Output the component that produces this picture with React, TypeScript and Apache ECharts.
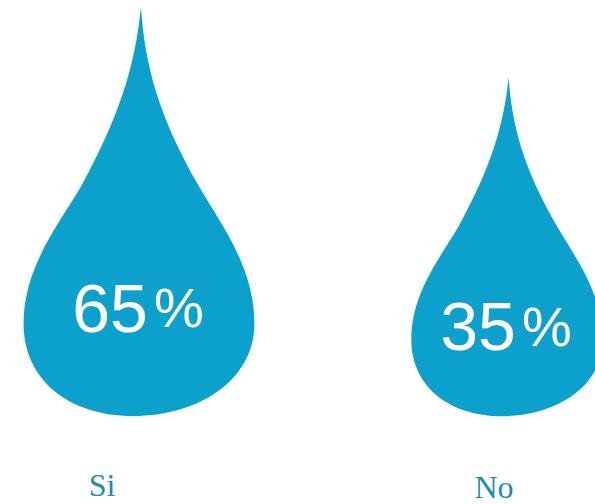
import React, { useEffect, useRef } from "react";
import * as echarts from "echarts";

// Survey answers and their shares (percent)
const CATEGORIES = ["Si", "No"];
const SHARES = [65, 35];

// Hidden value-axis range: a drop's tip sits at its share, its base at Y_MIN
const Y_MIN = -110;
const Y_MAX = 65;

const DROP_COLOR = "#0ba1cc";
const LABEL_COLOR = "#1a8db0";

// Drop outline in local units: tip at the top (0,0), base at y = DROP_H
const DROP_H = 411;
const DROP_PATH =
  "M 2 0 C 6 60 20 110 60 180 C 80 215 116 260 116 318 " +
  "C 116 375 60 411 -6 411 C -70 411 -116 375 -116 318 " +
  "C -116 260 -78 215 -58 180 C -20 110 -4 60 2 0 Z";

// Category-name placement relative to the drop centre / base line
const NAME_SHIFT: [number, number][] = [
  [-37, 69],
  [-13, 71],
];

export default function App() {
  const ref = useRef<HTMLDivElement>(null);

  useEffect(() => {
    document.body.style.margin = "0";
    if (!ref.current) return;
    const chart = echarts.init(ref.current, undefined, { renderer: "svg" });

    const renderItem = (params: any, api: any) => {
      const i = api.value(0);
      const v = api.value(1);
      const tip = api.coord([i, v]);
      const base = api.coord([i, Y_MIN]);
      const cx = tip[0];
      const top = tip[1];
      const h = base[1] - top;
      const s = h / DROP_H;
      const shift = NAME_SHIFT[i] || [0, 70];
      return {
        type: "group",
        children: [
          {
            type: "path",
            x: cx,
            y: top,
            scaleX: s,
            scaleY: s,
            shape: { pathData: DROP_PATH },
            style: { fill: DROP_COLOR },
          },
          {
            type: "text",
            x: cx - 1,
            y: top + 0.735 * h,
            style: {
              text: `{n|${v}}{p|%}`,
              align: "center",
              verticalAlign: "middle",
              rich: {
                n: {
                  fontSize: 68,
                  fontFamily: "Liberation Sans",
                  fill: "#ffffff",
                },
                p: {
                  fontSize: 56,
                  fontFamily: "Liberation Sans",
                  fill: "#ffffff",
                  padding: [0, 0, 0, 6],
                },
              },
            },
          },
          {
            type: "text",
            x: cx + shift[0],
            y: base[1] + shift[1],
            style: {
              text: CATEGORIES[i],
              align: "center",
              verticalAlign: "middle",
              fontSize: 32,
              fontFamily: "Liberation Serif",
              fill: LABEL_COLOR,
            },
          },
        ],
      };
    };

    chart.setOption({
      animation: false,
      grid: { left: 139, right: 88, top: 7, bottom: 88 },
      xAxis: {
        type: "category",
        data: CATEGORIES,
        boundaryGap: false,
        show: false,
      },
      yAxis: { type: "value", min: Y_MIN, max: Y_MAX, show: false },
      series: [
        {
          type: "custom",
          renderItem,
          clip: false,
          data: SHARES.map((v, i) => [i, v]),
        },
      ],
    });

    return () => chart.dispose();
  }, []);

  return <div ref={ref} style={{ width: 595, height: 504 }} />;
}
